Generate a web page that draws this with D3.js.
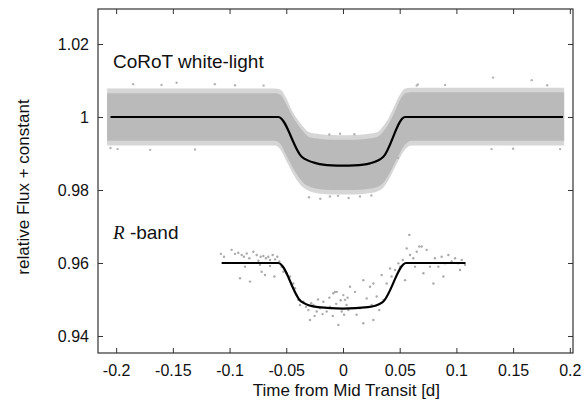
<!DOCTYPE html>
<html>
<head>
<meta charset="utf-8">
<script src="https://cdn.jsdelivr.net/npm/d3@7"></script>
<style>
  body { margin: 0; background: #fff; }
  text { font-family: "Liberation Sans", Arial, sans-serif; fill: #111; }
</style>
</head>
<body>
<div id="chart"></div>
<script>
// Chart size
var svgWidth = 585;
var svgHeight = 402;

var margins = { top: 9, right: 12, bottom: 49, left: 98 };

var width = svgWidth - margins.left - margins.right;
var height = svgHeight - margins.top - margins.bottom;

// ---- data ----
// x ticks / y ticks
var xTicks = [-0.2, -0.15, -0.1, -0.05, 0, 0.05, 0.1, 0.15, 0.2];
var yTicks = [0.94, 0.96, 0.98, 1, 1.02];

// CoRoT white-light: envelope of the dense cloud of points
var bandTime  = [-0.208, -0.060, -0.055, -0.050, -0.045, -0.040, -0.035, -0.030, -0.020, -0.010, 0, 0.010, 0.020, 0.030, 0.035, 0.040, 0.045, 0.050, 0.055, 0.060, 0.195];
var bandHi    = [1.0065, 1.0065, 1.0060, 1.0035, 1.0005, 0.9980, 0.9960, 0.9945, 0.9940, 0.9938, 0.9938, 0.9938, 0.9940, 0.9945, 0.9958, 0.9980, 1.0010, 1.0045, 1.0065, 1.0068, 1.0068];
var bandLo    = [0.9935, 0.9935, 0.9925, 0.9895, 0.9865, 0.9840, 0.9820, 0.9810, 0.9802, 0.9800, 0.9800, 0.9800, 0.9802, 0.9808, 0.9818, 0.9840, 0.9870, 0.9900, 0.9925, 0.9935, 0.9935];
// sparser outer fringe of the same cloud
var fringeHi  = [1.0078, 1.0078, 1.0075, 1.0052, 1.0018, 0.9993, 0.9973, 0.9958, 0.9953, 0.9951, 0.9950, 0.9951, 0.9953, 0.9958, 0.9973, 0.9996, 1.0028, 1.0060, 1.0078, 1.0080, 1.0080];
var fringeLo  = [0.9922, 0.9922, 0.9910, 0.9880, 0.9850, 0.9824, 0.9807, 0.9797, 0.9790, 0.9788, 0.9788, 0.9788, 0.9790, 0.9796, 0.9805, 0.9827, 0.9857, 0.9887, 0.9912, 0.9922, 0.9922];

// stray CoRoT points outside the band
var strayTime = [-0.205, -0.1987, -0.185, -0.170, -0.160, -0.1467, -0.1305, -0.113, -0.0952, -0.070, -0.030, -0.020, -0.012, -0.0115, -0.0044, -0.0026, 0.005, 0.010, 0.015, 0.025, 0.0485, 0.065, 0.066, 0.090, 0.131, 0.1323, 0.150, 0.1664, 0.180, 0.1914];
var strayFlux = [0.9915, 0.9912, 1.0090, 0.9910, 1.0088, 1.0094, 0.9911, 1.0090, 1.0087, 1.0086, 0.9780, 0.9776, 0.9952, 0.9782, 0.9784, 0.9954, 0.9778, 0.9953, 0.9782, 0.9785, 0.9888, 1.0086, 1.0089, 1.0088, 0.9912, 1.0108, 0.9913, 1.0101, 1.0087, 0.9912];

// CoRoT model
var modelTime = [-0.205, -0.057, -0.0364, -0.0232, -0.010, 0, 0.010, 0.0238, 0.0356, 0.0547, 0.194];
var modelFlux = [1, 1, 0.9891, 0.9873, 0.98675, 0.98666, 0.98675, 0.9873, 0.9891, 1, 1];

// R-band points
var rTime = [-0.1076, -0.1049, -0.0982, -0.0952, -0.0923, -0.0893, -0.0873, -0.0849, -0.0826, -0.0790, -0.0761, -0.0746, -0.0726, -0.0702, -0.0679, -0.0658, -0.0643, -0.0620, -0.0599, -0.0579, -0.0561,
             -0.0864, -0.0820, -0.0908, -0.0717, -0.0688, -0.0732, -0.0643, -0.0605, -0.0541, -0.0526, -0.0496, -0.0467, -0.0438, -0.0423, -0.0408, -0.0394, -0.0379, -0.0349, -0.0326, -0.0305, -0.0291,
             -0.0261, -0.0232, -0.0202, -0.0173, -0.0144, -0.0114, -0.0085, -0.0055, -0.0041, -0.0011, 0.0018, 0.0048,
             -0.028, -0.025, -0.022, -0.018, -0.012, -0.009, -0.006, -0.002, 0.001, 0.004,
             -0.0070, 0.0003, 0.0032, 0.0062, 0.0106, 0.0120, 0.0150, 0.0179, 0.0179, 0.0209, 0.0238, 0.0253, 0.0268, 0.0268, 0.0297, 0.0320, 0.0341, 0.0356, 0.0385, 0.0415, 0.0429, 0.0459, 0.0488,
             0.0503, 0.0527, 0.0547, 0.0562, 0.0585, 0.0591, 0.0620, 0.0635, 0.0650, 0.0673, 0.0694, 0.0709, 0.0738, 0.0767, 0.0797, 0.0811, 0.0841, 0.0870, 0.0885, 0.0900, 0.0929, 0.0958, 0.0988,
             0.1017, 0.1047, 0.1032, 0.1076];
var rFlux = [0.9625, 0.9617, 0.9636, 0.9625, 0.9628, 0.9622, 0.9617, 0.9626, 0.9613, 0.9631, 0.9622, 0.9606, 0.9617, 0.9619, 0.9613, 0.9617, 0.9608, 0.9622, 0.9610, 0.9617, 0.9604,
             0.9590, 0.9549, 0.9558, 0.9576, 0.9567, 0.9595, 0.9592, 0.9563, 0.9590, 0.9576, 0.9572, 0.9563, 0.9544, 0.9531, 0.9512, 0.9499, 0.9485, 0.9494, 0.9480, 0.9471, 0.9444,
             0.9485, 0.9467, 0.9476, 0.9494, 0.9467, 0.9480, 0.9517, 0.9521, 0.9430, 0.9467, 0.9499, 0.9471,
             0.9490, 0.9455, 0.9500, 0.9460, 0.9505, 0.9455, 0.9488, 0.9498, 0.9458, 0.9505,
             0.9521, 0.9512, 0.9485, 0.9535, 0.9521, 0.9458, 0.9476, 0.9553, 0.9435, 0.9503, 0.9535, 0.9485, 0.9544, 0.9444, 0.9508, 0.9471, 0.9567, 0.9499, 0.9544, 0.9585, 0.9563, 0.9581, 0.9599,
             0.9590, 0.9608, 0.9553, 0.9640, 0.9677, 0.9622, 0.9613, 0.9590, 0.9631, 0.9645, 0.9645, 0.9572, 0.9636, 0.9590, 0.9544, 0.9613, 0.9590, 0.9617, 0.9563, 0.9599, 0.9622, 0.9604, 0.9613,
             0.9599, 0.9608, 0.9581, 0.9595];

// R-band model
var rModelTime = [-0.107, -0.057, -0.037, -0.022, 0, 0.022, 0.035, 0.0556, 0.108];
var rModelFlux = [0.96, 0.96, 0.9495, 0.9479, 0.9475, 0.9479, 0.9493, 0.96, 0.96];

// ---- build the chart ----
var svg = d3.select("#chart")
            .append("svg")
            .attr("width", svgWidth)
            .attr("height", svgHeight);

var chartGroup = svg.append("g")
                    .attr("transform", `translate(${margins.left}, ${margins.top})`);

var xLinearScale = d3.scaleLinear()
    .domain([-0.216, 0.2028])
    .range([0, width]);

var yLinearScale = d3.scaleLinear()
    .domain([0.93534, 1.02959])
    .range([height, 0]);

// plain hyphen for the minus sign, like the original
var tickFormat = d => String(+d.toFixed(2));

// clip to the plotting box
svg.append("defs").append("clipPath")
   .attr("id", "plot-clip")
   .append("rect")
   .attr("width", width)
   .attr("height", height);

var plot = chartGroup.append("g").attr("clip-path", "url(#plot-clip)");

var bandRows = bandTime.map((t, i) => ({ t: t, hi: bandHi[i], lo: bandLo[i], fhi: fringeHi[i], flo: fringeLo[i] }));

var fringeArea = d3.area()
    .x(d => xLinearScale(d.t))
    .y0(d => yLinearScale(d.flo))
    .y1(d => yLinearScale(d.fhi))
    .curve(d3.curveMonotoneX);

var bandArea = d3.area()
    .x(d => xLinearScale(d.t))
    .y0(d => yLinearScale(d.lo))
    .y1(d => yLinearScale(d.hi))
    .curve(d3.curveMonotoneX);

plot.append("path")
    .datum(bandRows)
    .attr("d", fringeArea)
    .attr("fill", "#d6d6d6");

plot.append("path")
    .datum(bandRows)
    .attr("d", bandArea)
    .attr("fill", "#bababa");

plot.selectAll(".stray")
    .data(strayTime.map((t, i) => [t, strayFlux[i]]))
    .enter()
    .append("circle")
    .attr("class", "stray")
    .attr("cx", d => xLinearScale(d[0]))
    .attr("cy", d => yLinearScale(d[1]))
    .attr("r", 1.2)
    .attr("fill", "#b4b4b4");

var line = d3.line()
    .x(d => xLinearScale(d[0]))
    .y(d => yLinearScale(d[1]))
    .curve(d3.curveMonotoneX);

plot.append("path")
    .datum(modelTime.map((t, i) => [t, modelFlux[i]]))
    .attr("d", line)
    .attr("fill", "none")
    .attr("stroke", "#000")
    .attr("stroke-width", 2.2);

plot.selectAll(".rpt")
    .data(rTime.map((t, i) => [t, rFlux[i]]))
    .enter()
    .append("circle")
    .attr("class", "rpt")
    .attr("cx", d => xLinearScale(d[0]))
    .attr("cy", d => yLinearScale(d[1]))
    .attr("r", 1.2)
    .attr("fill", "#aaaaaa");

plot.append("path")
    .datum(rModelTime.map((t, i) => [t, rModelFlux[i]]))
    .attr("d", line)
    .attr("fill", "none")
    .attr("stroke", "#000")
    .attr("stroke-width", 2.2);

// axes, ticks pointing inward on all four sides
var bottomAxis = d3.axisBottom(xLinearScale).tickValues(xTicks).tickFormat(tickFormat)
    .tickSizeInner(-5).tickSizeOuter(0).tickPadding(12);
var topAxis = d3.axisTop(xLinearScale).tickValues(xTicks).tickFormat("")
    .tickSizeInner(-5).tickSizeOuter(0);
var leftAxis = d3.axisLeft(yLinearScale).tickValues(yTicks).tickFormat(tickFormat)
    .tickSizeInner(-5).tickSizeOuter(0).tickPadding(9);
var rightAxis = d3.axisRight(yLinearScale).tickValues(yTicks).tickFormat("")
    .tickSizeInner(-5).tickSizeOuter(0);

var axes = [
    chartGroup.append("g").attr("transform", `translate(0,${height})`).call(bottomAxis),
    chartGroup.append("g").call(topAxis),
    chartGroup.append("g").call(leftAxis),
    chartGroup.append("g").attr("transform", `translate(${width},0)`).call(rightAxis)
];
axes.forEach(function(a){
    a.select(".domain").remove();
    a.selectAll(".tick line").attr("stroke", "#333").attr("stroke-width", 1);
    a.selectAll(".tick text")
     .style("font-family", "'Liberation Sans', Arial, sans-serif")
     .style("font-size", "16px")
     .attr("fill", "#111");
});

chartGroup.append("rect")
    .attr("width", width)
    .attr("height", height)
    .attr("fill", "none")
    .attr("stroke", "#333")
    .attr("stroke-width", 1.2);

// labels
chartGroup.append("text")
    .attr("x", xLinearScale(0.003))
    .attr("y", height + 43)
    .attr("text-anchor", "middle")
    .style("font-size", "17px")
    .text("Time from Mid Transit [d]");

svg.append("text")
    .attr("transform", `translate(29, ${margins.top + height / 2 + 6}) rotate(-90)`)
    .attr("text-anchor", "middle")
    .style("font-size", "17px")
    .text("relative Flux + constant");

chartGroup.append("text")
    .attr("x", 15)
    .attr("y", 59)
    .style("font-size", "19px")
    .text("CoRoT white-light");

var rLabel = chartGroup.append("text")
    .attr("x", 15)
    .attr("y", 230)
    .style("font-size", "19px");
rLabel.append("tspan")
    .style("font-family", "'Liberation Serif', 'Times New Roman', serif")
    .style("font-style", "italic")
    .text("R");
rLabel.append("tspan")
    .text(" -band");
</script>
</body>
</html>
